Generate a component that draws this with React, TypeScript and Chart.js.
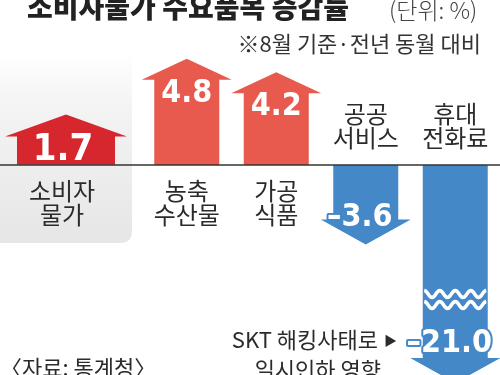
import React, { useEffect, useRef } from 'react';
import { Chart, registerables } from 'chart.js';

Chart.register(...registerables);

// ---- text ----
const TITLE = '소비자물가 수요품목 증감률';
const UNIT = '(단위: %)';
const SUBTITLE = '※8월 기준·전년 동월 대비';
const SOURCE = '〈자료: 통계청〉';
const NOTE_LINE1 = 'SKT 해킹사태로';
const NOTE_LINE2 = '일시인하 영향';

// ---- data ----
const summaryCategories = [['소비자', '물가']];
const summaryValues = [1.7];
const itemCategories = [['농축', '수산물'], ['가공', '식품'], ['공공', '서비스'], ['휴대', '전화료']];
const itemValues = [4.8, 4.2, -3.6, -21.0];

// axis ranges (the -21.0 bar is broken at the bottom edge)
const itemYMin = -9.5;
const itemYMax = 5.5;
const summaryYMin = -7.1;
const summaryYMax = 4.1;

// ---- styles ----
const RED_DARK = '#d6262e';
const RED = '#e85a4e';
const BLUE = '#4588c8';
const TEXT = '#2b2b2b';
const KR = '"Noto Sans CJK KR", "Noto Sans", sans-serif';
const NUM = '"DejaVu Sans Condensed", "Liberation Sans Narrow", "DejaVu Sans", sans-serif';
const PAD_TOP = 43.4;

function fmt(v: number) {
  return (v < 0 ? '–' : '') + Math.abs(v).toFixed(1);
}

function drawArrow(ctx: CanvasRenderingContext2D, cx: number, base: number, tip: number,
  bw: number, hw: number, hh: number, color: string) {
  const dir = tip < base ? -1 : 1;
  const headBase = tip - dir * hh;
  ctx.beginPath();
  ctx.moveTo(cx - bw, base);
  ctx.lineTo(cx - bw, headBase);
  ctx.lineTo(cx - hw, headBase);
  ctx.lineTo(cx, tip);
  ctx.lineTo(cx + hw, headBase);
  ctx.lineTo(cx + bw, headBase);
  ctx.lineTo(cx + bw, base);
  ctx.closePath();
  ctx.fillStyle = color;
  ctx.fill();
  return headBase;
}

function drawValue(ctx: CanvasRenderingContext2D, text: string, x: number, y: number, size: number, outline: string) {
  ctx.save();
  ctx.font = `bold ${size}px ${NUM}`;
  try { (ctx as any).fontStretch = 'condensed'; } catch (e) { /* ignore */ }
  ctx.textAlign = 'center';
  ctx.textBaseline = 'alphabetic';
  ctx.lineJoin = 'round';
  ctx.lineWidth = 4;
  ctx.strokeStyle = outline;
  ctx.strokeText(text, x, y);
  ctx.fillStyle = '#ffffff';
  ctx.fillText(text, x, y);
  ctx.restore();
}

function drawLabel(ctx: CanvasRenderingContext2D, lines: string[], x: number, yFirst: number) {
  ctx.save();
  ctx.font = `24px ${KR}`;
  ctx.fillStyle = TEXT;
  ctx.textAlign = 'center';
  ctx.textBaseline = 'middle';
  lines.forEach((l, i) => ctx.fillText(l, x, yFirst + i * 24));
  ctx.restore();
}

function wave(ctx: CanvasRenderingContext2D, x0: number, x1: number, y: number, amp: number, periods: number) {
  ctx.beginPath();
  const n = 80;
  for (let i = 0; i <= n; i++) {
    const t = i / n;
    const x = x0 + (x1 - x0) * t;
    const yy = y - amp * Math.sin(t * periods * 2 * Math.PI + Math.PI / 2);
    if (i === 0) ctx.moveTo(x, yy); else ctx.lineTo(x, yy);
  }
  ctx.stroke();
}

const summaryPlugin = {
  id: 'summaryDraw',
  beforeDatasetsDraw(chart: any) {
    const ctx = chart.ctx as CanvasRenderingContext2D;
    // gray background panel
    const g = ctx.createLinearGradient(0, 55, 0, 243);
    g.addColorStop(0, 'rgba(240,240,240,0)');
    g.addColorStop(0.3, '#f3f3f3');
    g.addColorStop(1, '#e6e6e6');
    ctx.save();
    ctx.fillStyle = g;
    ctx.beginPath();
    const r = 12, x0 = -20, x1 = 132, y0 = 40, y1 = 243;
    ctx.moveTo(x0, y0);
    ctx.lineTo(x1, y0);
    ctx.lineTo(x1, y1 - r);
    ctx.quadraticCurveTo(x1, y1, x1 - r, y1);
    ctx.lineTo(x0, y1);
    ctx.closePath();
    ctx.fill();
    ctx.restore();
  },
  afterDatasetsDraw(chart: any) {
    const ctx = chart.ctx as CanvasRenderingContext2D;
    const meta = chart.getDatasetMeta(0);
    const zero = chart.scales.y.getPixelForValue(0);
    meta.data.forEach((bar: any, i: number) => {
      const v = summaryValues[i];
      const hb = drawArrow(ctx, bar.x, zero, bar.y, 49, 61, 22, RED_DARK);
      drawValue(ctx, fmt(v), bar.x - 3, hb + 24, 38, RED_DARK);
      drawLabel(ctx, summaryCategories[i], bar.x - 4, zero + 26);
    });
  },
};

const itemPlugin = {
  id: 'itemDraw',
  afterDatasetsDraw(chart: any) {
    const ctx = chart.ctx as CanvasRenderingContext2D;
    const area = chart.chartArea;
    const y = chart.scales.y;
    const zero = y.getPixelForValue(0);
    const meta = chart.getDatasetMeta(0);

    // title
    ctx.save();
    ctx.fillStyle = '#222';
    ctx.textBaseline = 'alphabetic';
    ctx.textAlign = 'left';
    ctx.font = `900 28px ${KR}`;
    ctx.fillText(TITLE, 27, 18);
    ctx.font = `300 23px ${KR}`;
    ctx.fillStyle = '#444';
    ctx.fillText(UNIT, 389, 19);
    ctx.textAlign = 'right';
    ctx.font = `22px ${KR}`;
    ctx.fillStyle = '#333';
    ctx.fillText(SUBTITLE, 481, 52);
    ctx.restore();

    // arrows
    meta.data.forEach((bar: any, i: number) => {
      const v = itemValues[i];
      const broken = v < itemYMin;
      const tip = broken ? area.bottom + 8 : bar.y;
      const color = v >= 0 ? RED : BLUE;
      const hh = v >= 0 ? 21 : 25;
      const hb = drawArrow(ctx, bar.x, zero, tip, 32.5, 45, hh, color);
      if (broken) {
        ctx.save();
        ctx.strokeStyle = '#ffffff';
        ctx.lineWidth = 3.5;
        wave(ctx, bar.x - 31, bar.x + 31, tip - 89, 3.5, 4);
        wave(ctx, bar.x - 31, bar.x + 31, tip - 78, 3.5, 4);
        ctx.restore();
      }
      if (v >= 0) {
        drawValue(ctx, fmt(v), bar.x, hb + 22, 32, color);
        drawLabel(ctx, itemCategories[i], bar.x, zero + 26);
      } else {
        drawValue(ctx, fmt(v), bar.x - 6, broken ? hb - 6 : hb + 6, 32, color);
        drawLabel(ctx, itemCategories[i], bar.x, zero - 51);
      }
    });

    // zero line
    ctx.save();
    ctx.strokeStyle = '#333';
    ctx.lineWidth = 1.5;
    ctx.beginPath();
    ctx.moveTo(0, zero);
    ctx.lineTo(chart.width, zero);
    ctx.stroke();
    ctx.restore();

    // notes
    ctx.save();
    ctx.fillStyle = TEXT;
    ctx.textBaseline = 'middle';
    ctx.font = `22px ${KR}`;
    ctx.textAlign = 'right';
    ctx.fillText(NOTE_LINE1, 378, 340);
    ctx.font = `13px ${KR}`;
    ctx.fillText('▶', 397, 340);
    ctx.font = `22px ${KR}`;
    ctx.fillText(NOTE_LINE2, 381, 370);
    ctx.textAlign = 'left';
    ctx.font = `22px ${KR}`;
    ctx.fillText(SOURCE, 0, 368);
    ctx.restore();
  },
};

export default function App() {
  const leftRef = useRef<HTMLCanvasElement>(null);
  const mainRef = useRef<HTMLCanvasElement>(null);

  useEffect(() => {
    const common = {
      animation: false as const,
      responsive: false,
      events: [] as any[],
      plugins: { legend: { display: false }, tooltip: { enabled: false } },
    };
    const left = new Chart(leftRef.current!, {
      type: 'bar',
      data: {
        labels: summaryCategories.map((c) => c.join('')),
        datasets: [{ data: summaryValues, backgroundColor: 'rgba(0,0,0,0)', borderWidth: 0 }],
      },
      options: {
        ...common,
        layout: { padding: { top: PAD_TOP, bottom: 0, left: 0, right: 0 } },
        scales: {
          x: { display: false },
          y: { display: false, min: summaryYMin, max: summaryYMax },
        },
      },
      plugins: [summaryPlugin],
    });
    const main = new Chart(mainRef.current!, {
      type: 'bar',
      data: {
        labels: itemCategories.map((c) => c.join('')),
        datasets: [{ data: itemValues, backgroundColor: 'rgba(0,0,0,0)', borderWidth: 0 }],
      },
      options: {
        ...common,
        layout: { padding: { top: PAD_TOP, bottom: 0, left: 142, right: 0 } },
        scales: {
          x: { display: false },
          y: { display: false, min: itemYMin, max: itemYMax },
        },
      },
      plugins: [itemPlugin],
    });
    return () => {
      left.destroy();
      main.destroy();
    };
  }, []);

  return (
    <div style={{ position: 'absolute', left: 0, top: 0, width: 500, height: 375, background: '#fff', overflow: 'hidden' }}>
      <canvas ref={leftRef} width={132} height={375} style={{ position: 'absolute', left: 0, top: 0 }} />
      <canvas ref={mainRef} width={500} height={375} style={{ position: 'absolute', left: 0, top: 0 }} />
    </div>
  );
}
